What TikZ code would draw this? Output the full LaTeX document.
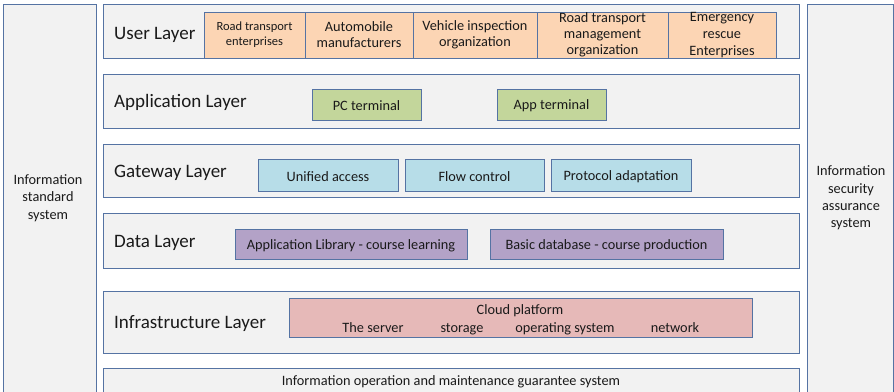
\documentclass[tikz,border=0pt]{standalone}
\usepackage{fontspec}
\setmainfont{Carlito}
\definecolor{bc}{HTML}{5573A3}
\definecolor{lay}{HTML}{F2F2F2}
\definecolor{org}{HTML}{FCD5B4}
\definecolor{grn}{HTML}{C3D69B}
\definecolor{blu}{HTML}{B7DDE8}
\definecolor{pur}{HTML}{B3A2C7}
\definecolor{pnk}{HTML}{E6B9B8}
\definecolor{tx}{HTML}{1A1A1A}
\begin{document}
\begin{tikzpicture}[x=1pt,y=-1pt,
  frame/.style={draw=bc,fill=lay,line width=0.9pt},
  cell/.style={draw=bc,line width=0.8pt,rectangle,inner sep=0pt,align=center,text=tx,font=\fontsize{14.3}{15.5}\selectfont},
  onecell/.style={cell,text height=13pt},
  title/.style={anchor=west,inner sep=0pt,yshift=-1.5pt,text=tx,font=\fontsize{19}{21}\selectfont},
  side/.style={align=center,inner sep=0pt,yshift=-1pt,text=tx,font=\fontsize{14.3}{17.3}\selectfont}]
\useasboundingbox (0,0) rectangle (894,391);
% side frames
\path[frame] (3,4) rectangle (96,400);
\path[frame] (807,4) rectangle (893,400);
\node[side] (lside) at (48,197) {Information\\standard\\system};
\node[side] (rside) at (851,197) {Information\\security\\assurance\\system};
% layer frames
\path[frame] (103,4) rectangle (799,58);
\path[frame] (103,74) rectangle (799,128);
\path[frame] (103,144) rectangle (799,197);
\path[frame] (103,213) rectangle (799,268);
\path[frame] (103,291) rectangle (799,353);
\path[frame] (103,368) rectangle (799,400);
% titles
\node[title] (tuser) at (114,33) {User Layer};
\node[title] (tapp) at (114,101) {Application Layer};
\node[title] (tgw) at (114,171) {Gateway Layer};
\node[title] (tdata) at (114,241) {Data Layer};
\node[title] (tinf) at (114,322) {Infrastructure Layer};
% user layer cells
\begin{scope}[every node/.style={cell,fill=org,minimum height=46pt}]
\node[minimum width=101pt,font=\fontsize{12.5}{15}\selectfont] (u1) at (254.5,35) {Road transport\\enterprises};
\node[minimum width=108pt,font=\fontsize{14.3}{16}\selectfont] (u2) at (359,35) {Automobile\\manufacturers};
\node[minimum width=124pt,font=\fontsize{14.3}{16}\selectfont] (u3) at (475,35) {Vehicle inspection\\organization};
\node[minimum width=131pt,font=\fontsize{14.3}{16}\selectfont] (u4) at (602.5,35) {Road transport\\management\\organization};
\node[minimum width=108pt,font=\fontsize{14.3}{17}\selectfont] (u5) at (722,35) {Emergency\\rescue\\Enterprises};
\end{scope}
% application cells
\node[onecell,fill=grn,minimum width=109pt,minimum height=31pt] (pc) at (366.5,104.5) {PC terminal};
\node[onecell,fill=grn,minimum width=109pt,minimum height=31pt] (appt) at (551.5,104.5) {App terminal};
% gateway cells
\node[onecell,fill=blu,minimum width=140pt,minimum height=32pt] (g1) at (328,175) {Unified access};
\node[onecell,fill=blu,minimum width=139pt,minimum height=32pt] (g2) at (474.5,175) {Flow control};
\node[onecell,fill=blu,minimum width=140pt,minimum height=32pt] (g3) at (621,175) {Protocol adaptation};
% data cells
\node[onecell,fill=pur,minimum width=232pt,minimum height=30pt] (d1) at (351,244) {Application Library - course learning};
\node[onecell,fill=pur,minimum width=233pt,minimum height=30pt] (d2) at (606.5,244) {Basic database - course production};
% infrastructure cell
\node[cell,fill=pnk,minimum width=463pt,minimum height=39pt] (cloud) at (520.5,317.5) {};
\begin{scope}[every node/.style={inner sep=0pt,anchor=base,text=tx,font=\fontsize{14.3}{15.5}\selectfont}]
\node (cp) at (520,314) {Cloud platform};
\node (srv) at (373,332) {The server};
\node (sto) at (462,332) {storage};
\node (os) at (565,332) {operating system};
\node (net) at (675,332) {network};
\node (ops) at (451,385) {Information operation and maintenance guarantee system};
\end{scope}
\end{tikzpicture}
\end{document}
